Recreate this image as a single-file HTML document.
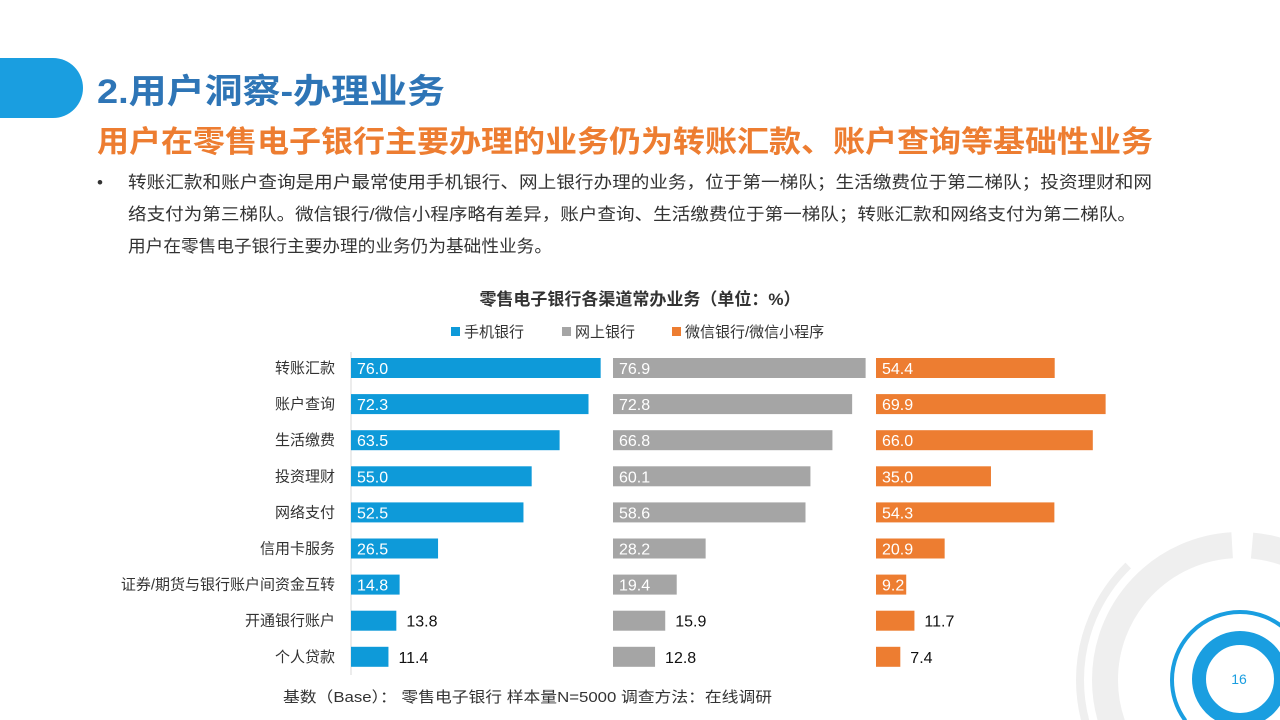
<!DOCTYPE html>
<html><head><meta charset="utf-8">
<style>
html,body{margin:0;padding:0;background:#fff;width:1280px;height:720px;overflow:hidden;}
svg{display:block;font-family:"Liberation Sans","Noto Sans CJK SC",sans-serif;overflow:hidden;}
</style></head>
<body>
<svg id="s" width="1280" height="720" viewBox="0 0 1280 720" xmlns="http://www.w3.org/2000/svg">
  <defs><clipPath id="cp"><rect x="0" y="0" width="1280" height="720"/></clipPath></defs>
  <g clip-path="url(#cp)">
    <circle cx="1240" cy="680" r="135" fill="none" stroke="#efefef" stroke-width="26" stroke-dasharray="180 14 120 14 300 20" />
    <circle cx="1240" cy="680" r="160" fill="none" stroke="#efefef" stroke-width="8" stroke-dasharray="200 30 400" />
    <circle cx="1240" cy="680" r="68" fill="none" stroke="#1a9ee0" stroke-width="4" stroke-dasharray="150 20 400"/>
    <circle cx="1240" cy="679" r="41" fill="none" stroke="#1a9ee0" stroke-width="14"/>
    <text x="1239" y="684" font-size="14" fill="#1a9ee0" text-anchor="middle">16</text>
  </g>
  <path d="M0 58 H53 A30 30 0 0 1 53 118 H0 Z" fill="#1a9ee0"/>
  <text x="97" y="103" font-size="34" font-weight="bold" fill="#2e75b6" textLength="348" lengthAdjust="spacingAndGlyphs">2.用户洞察-办理业务</text>
  <text x="97" y="152" font-size="30" font-weight="bold" fill="#ed7d31" textLength="1056" lengthAdjust="spacingAndGlyphs">用户在零售电子银行主要办理的业务仍为转账汇款、账户查询等基础性业务</text>
  <g font-size="17" fill="#333">
    <text x="97" y="188">•</text>
    <text x="128" y="188" textLength="1024" lengthAdjust="spacingAndGlyphs">转账汇款和账户查询是用户最常使用手机银行、网上银行办理的业务，位于第一梯队；生活缴费位于第二梯队；投资理财和网</text>
    <text x="128" y="220" textLength="1008" lengthAdjust="spacingAndGlyphs">络支付为第三梯队。微信银行/微信小程序略有差异，账户查询、生活缴费位于第一梯队；转账汇款和网络支付为第二梯队。</text>
    <text x="128" y="252" textLength="424" lengthAdjust="spacingAndGlyphs">用户在零售电子银行主要办理的业务仍为基础性业务。</text>
  </g>
  <text x="640" y="305" font-size="17" font-weight="bold" fill="#333" text-anchor="middle">零售电子银行各渠道常办业务（单位：%）</text>
  <g font-size="15" fill="#333">
    <rect x="451" y="327" width="9" height="9" fill="#0e9ad9"/><text x="464" y="337">手机银行</text>
    <rect x="562" y="327" width="9" height="9" fill="#a5a5a5"/><text x="575" y="337">网上银行</text>
    <rect x="672" y="327" width="9" height="9" fill="#ed7d31"/><text x="685" y="337">微信银行/微信小程序</text>
  </g>
  <line x1="351" y1="352" x2="351" y2="675" stroke="#d9d9d9" stroke-width="1"/>
  <g id="chart"></g>
  <text x="283" y="702" font-size="15" fill="#333" textLength="489" lengthAdjust="spacingAndGlyphs">基数（Base）： 零售电子银行  样本量N=5000  调查方法：在线调研</text>
</svg>
<script>
const categories = ["转账汇款","账户查询","生活缴费","投资理财","网络支付","信用卡服务","证券/期货与银行账户间资金互转","开通银行账户","个人贷款"];
const mobile = [76.0,72.3,63.5,55.0,52.5,26.5,14.8,13.8,11.4];
const online = [76.9,72.8,66.8,60.1,58.6,28.2,19.4,15.9,12.8];
const wechat = [54.4,69.9,66.0,35.0,54.3,20.9,9.2,11.7,7.4];
const NS="http://www.w3.org/2000/svg";
const g=document.getElementById('chart');
const scale=3.285, barH=20;
const yC=i=>368+i*36.1;
const xw=v=>v*scale;
function mk(t,a){const e=document.createElementNS(NS,t);for(const k in a)e.setAttribute(k,a[k]);g.appendChild(e);return e;}
categories.forEach((c,i)=>{
  const t=mk('text',{x:335,y:yC(i)+5,'font-size':15,fill:'#333','text-anchor':'end'});
  t.textContent=c;
  
  
});
const series=[{d:mobile,x0:351,col:'#0e9ad9',n:'mobile',th:14},{d:online,x0:613,col:'#a5a5a5',n:'online',th:17},{d:wechat,x0:876,col:'#ed7d31',n:'wechat',th:9}];
series.forEach(s=>{
  s.d.forEach((v,i)=>{
    const w=xw(v);
    const r=mk('rect',{x:s.x0,y:yC(i)-barH/2,width:w,height:barH,fill:s.col});
    
    
    const label=v.toFixed(1);
    const inside=v>s.th && (s.n!=='wechat' || v<12 ? v>s.th && !(s.n==='wechat' && v>11 && v<12) : true);
    const t=mk('text',{x:inside?s.x0+6:s.x0+w+10,y:yC(i)+6,'font-size':16,fill:inside?'#fff':'#111'});
    t.textContent=label;
    
    
  });
});
</script>
</body></html>
